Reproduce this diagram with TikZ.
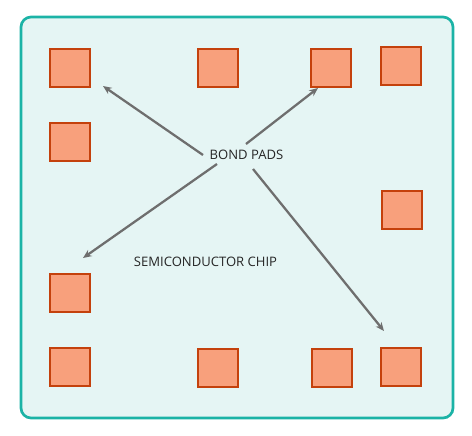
\documentclass[tikz,border=0pt]{standalone}
\usepackage{fontspec}
\setmainfont{Open Sans}
\usetikzlibrary{arrows.meta}
\definecolor{chipfill}{HTML}{E5F5F4}
\definecolor{chipborder}{HTML}{1BB3A6}
\definecolor{padfill}{HTML}{F8A07C}
\definecolor{padborder}{HTML}{C4410C}
\definecolor{arrowgray}{HTML}{6E6E6E}
\tikzset{
  pad/.style={draw=padborder, fill=padfill, line width=1.8pt, minimum width=30pt, minimum height=28.5pt, inner sep=0pt, anchor=north west},
  pointer/.style={draw=arrowgray, line width=1.7pt, -{Stealth[length=6.5pt,width=5.5pt]}},
  lbl/.style={font=\fontsize{9.8}{11}\selectfont, text=black!85, inner sep=0pt}
}
\begin{document}
\begin{tikzpicture}[x=0.75pt,y=-0.75pt]
\useasboundingbox (0,0) rectangle (472,436);
\draw[draw=chipborder, fill=chipfill, line width=2pt, rounded corners=7.5pt] (21,17) rectangle (453,418);
% pads
\node[pad] (p1) at (49,48) {};
\node[pad] (p2) at (197,48) {};
\node[pad] (p3) at (310,48) {};
\node[pad] (p4) at (380,46) {};
\node[pad] (p5) at (49,122) {};
\node[pad] (p6) at (381,190) {};
\node[pad] (p7) at (49,273) {};
\node[pad] (p8) at (49,347) {};
\node[pad] (p9) at (197,348) {};
\node[pad] (p10) at (311,348) {};
\node[pad] (p11) at (380,347) {};
% labels
\node[lbl] (bp) at (246.5,155) {BOND PADS};
\node[lbl] (sc) at (205.5,262) {SEMICONDUCTOR CHIP};
% connector ends
\coordinate (s1) at (203,155);
\coordinate (t1) at (103,86);
\coordinate (s2) at (246,144);
\coordinate (t2) at (318,88);
\coordinate (s3) at (217,164);
\coordinate (t3) at (83,258);
\coordinate (s4) at (253,169);
\coordinate (t4) at (384,331);
\draw[pointer] (s1) -- (t1);
\draw[pointer] (s2) -- (t2);
\draw[pointer] (s3) -- (t3);
\draw[pointer] (s4) -- (t4);
\end{tikzpicture}
\end{document}
